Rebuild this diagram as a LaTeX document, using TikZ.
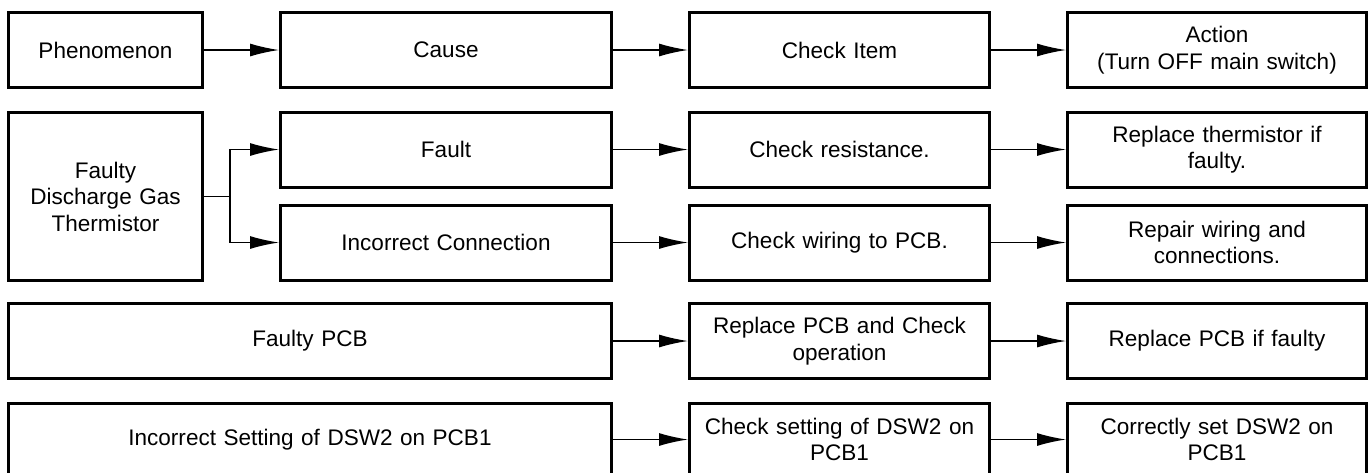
\documentclass[tikz,border=0pt]{standalone}
\usepackage{fontspec}
\setmainfont{Liberation Sans}
\usepackage{tikz}
\usetikzlibrary{arrows.meta}

\tikzset{
  box/.style 2 args={draw, line width=2.25pt, inner sep=2pt, align=center,
    minimum width=#1*0.75pt, minimum height=#2*0.75pt, text width=#1*0.75pt-12pt},
  flow/.style={line width=1.1pt, -{Latex[length=21.75pt, width=9.75pt]}}
}

\begin{document}
\begin{tikzpicture}[x=0.75pt,y=-0.75pt,every node/.style={font=\fontsize{16.9}{19.9}\selectfont}]
\useasboundingbox (0,0) rectangle (1370,472);
\node[box={194}{75}] (phen) at (105.5,50) {Phenomenon};
\node[box={331}{75}] (cause) at (446,50) {Cause};
\node[box={300}{75}] (item) at (839.5,50) {Check Item};
\node[box={299}{75}] (act) at (1217,50) {Action\\(Turn OFF main switch)};
\node[box={194}{168}] (therm) at (105.5,196.5) {Faulty\\Discharge Gas\\Thermistor};
\node[box={331}{75}] (fault) at (446,149.5) {Fault};
\node[box={300}{75}] (resist) at (839.5,149.5) {Check resistance.};
\node[box={299}{75}] (replth) at (1217,149.5) {Replace thermistor if\\faulty.};
\node[box={331}{75}] (conn) at (446,242.5) {Incorrect Connection};
\node[box={300}{75}] (wiring) at (839.5,242.5) {Check wiring to PCB.};
\node[box={299}{75}] (repair) at (1217,242.5) {Repair wiring and\\connections.};
\node[box={603}{75}] (pcb) at (310,341) {Faulty PCB};
\node[box={300}{75}] (chkpcb) at (839.5,341) {Replace PCB and Check\\operation};
\node[box={299}{75}] (replpcb) at (1217,341) {Replace PCB if faulty};
\node[box={603}{72}] (dsw) at (310,439.5) {Incorrect Setting of DSW2 on PCB1};
\node[box={300}{72}] (chkdsw) at (839.5,439.5) {Check setting of DSW2 on\\PCB1};
\node[box={299}{72}] (setdsw) at (1217,439.5) {Correctly set DSW2 on\\PCB1};
\coordinate (br) at (230,196.5);
\draw[flow] (phen) -- (cause);
\draw[flow] (cause) -- (item);
\draw[flow] (item) -- (act);
\draw[line width=1.1pt] (therm.east) -- (br);
\draw[flow] (br) |- (fault.west);
\draw[flow] (br) |- (conn.west);
\draw[flow] (fault) -- (resist);
\draw[flow] (resist) -- (replth);
\draw[flow] (conn) -- (wiring);
\draw[flow] (wiring) -- (repair);
\draw[flow] (pcb) -- (chkpcb);
\draw[flow] (chkpcb) -- (replpcb);
\draw[flow] (dsw) -- (chkdsw);
\draw[flow] (chkdsw) -- (setdsw);
\end{tikzpicture}
\end{document}
